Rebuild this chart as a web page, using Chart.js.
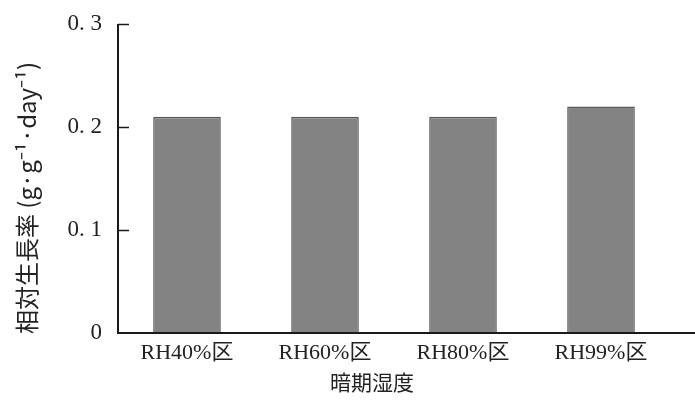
<!DOCTYPE html>
<html>
<head>
<meta charset="utf-8">
<script src="https://cdn.jsdelivr.net/npm/chart.js@4.4.1/dist/chart.umd.min.js"></script>
<style>
html,body{margin:0;padding:0;background:#fff;}
#wrap{width:695px;height:403px;position:relative;}
</style>
</head>
<body>
<div id="wrap"><canvas id="c"></canvas></div>
<script>
const categories = ['RH40%区', 'RH60%区', 'RH80%区', 'RH99%区'];
const growthRate = [0.21, 0.21, 0.21, 0.22];
const yTickValues = [0, 0.1, 0.2, 0.3];
const yTickLabels = ['0', '0. 1', '0. 2', '0. 3'];
const xTitle = '暗期湿度';
const yTitle = '相対生長率 (g·g⁻¹·day⁻¹)';

const FONT = '"Liberation Serif", "Noto Sans CJK JP", serif';

const axesPlugin = {
  id: 'axesPlugin',
  afterDatasetsDraw(chart) {
    const ctx = chart.ctx;
    const y = chart.scales.y;
    const area = chart.chartArea;
    ctx.save();
    ctx.strokeStyle = '#1a1a1a';
    ctx.lineWidth = 2;
    ctx.beginPath();
    ctx.moveTo(area.left, y.getPixelForValue(0.3));
    ctx.lineTo(area.left, y.getPixelForValue(0));
    ctx.lineTo(chart.width, y.getPixelForValue(0));
    ctx.stroke();
    ctx.lineWidth = 1.5;
    yTickValues.forEach(v => {
      if (v === 0) return;
      const py = Math.round(y.getPixelForValue(v)) + 0.5;
      ctx.beginPath();
      ctx.moveTo(area.left, py);
      ctx.lineTo(area.left + 11, py);
      ctx.stroke();
    });
    // axis titles
    ctx.fillStyle = '#222';
    ctx.textAlign = 'center';
    ctx.textBaseline = 'middle';
    ctx.font = '21px "Noto Sans CJK JP", sans-serif';
    ctx.fillText(xTitle, 372, 382);
    ctx.translate(27, 198);
    ctx.rotate(-Math.PI / 2);
    ctx.font = '24px "Noto Sans CJK JP", sans-serif';
    ctx.fillText(yTitle, 0, 0);
    ctx.restore();
  }
};

new Chart(document.getElementById('c'), {
  type: 'bar',
  data: {
    labels: categories,
    datasets: [{
      data: growthRate,
      backgroundColor: '#838383',
      borderColor: '#5a5a5a',
      borderWidth: 1.5,
      barPercentage: 0.49,
      categoryPercentage: 1.0
    }]
  },
  options: {
    responsive: true,
    maintainAspectRatio: false,
    animation: false,
    devicePixelRatio: 1,
    layout: { padding: { top: 24, right: 25, bottom: 0, left: 0 } },
    plugins: { legend: { display: false }, tooltip: { enabled: false } },
    scales: {
      x: {
        grid: { display: false, drawTicks: false },
        border: { display: false },
        ticks: { color: '#222', font: { family: FONT, size: 22 }, padding: 7, maxRotation: 0 },
        afterFit(s) { s.height = 70; s.paddingLeft = 0; s.paddingRight = 0; }
      },
      y: {
        min: 0, max: 0.3,
        grid: { display: false, drawTicks: false },
        border: { display: false },
        afterBuildTicks(s) { s.ticks = yTickValues.map(v => ({ value: v })); },
        ticks: {
          color: '#222',
          font: { family: FONT, size: 23 },
          padding: 16,
          callback: (v) => yTickLabels[yTickValues.findIndex(t => Math.abs(t - v) < 1e-9)]
        },
        afterFit(s) { s.width = 118; s.paddingTop = 0; s.paddingBottom = 0; }
      }
    }
  },
  plugins: [axesPlugin]
});
</script>
</body>
</html>
